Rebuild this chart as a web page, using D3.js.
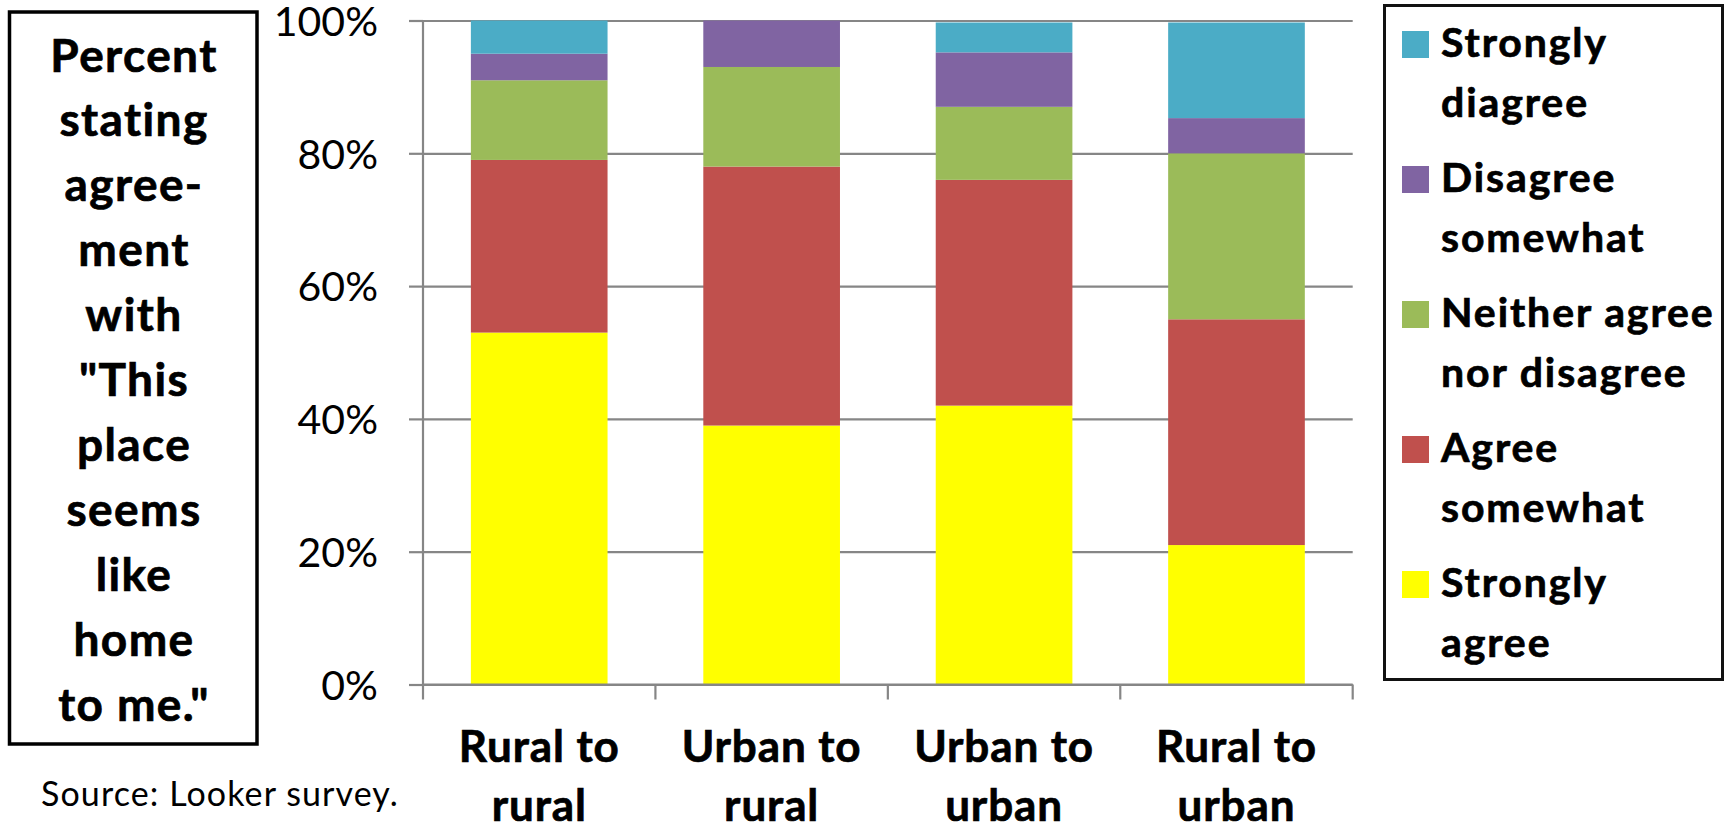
<!DOCTYPE html>
<html>
<head>
<meta charset="utf-8">
<script src="https://cdn.jsdelivr.net/npm/d3@7"></script>
<style>
  html, body { margin: 0; padding: 0; background: #fff; }
  svg { display: block; font-family: Lato, "Open Sans", sans-serif; }
</style>
</head>
<body>
<svg id="chart" width="1727" height="826"></svg>
<script>
// Migration categories (x axis) and their two-line tick labels
const categories = ["Rural to rural", "Urban to rural", "Urban to urban", "Rural to urban"];
const categoryLabels = [["Rural to", "rural"], ["Urban to", "rural"], ["Urban to", "urban"], ["Rural to", "urban"]];

// Response shares (%) per category, stacked bottom to top
const stronglyAgree    = [53, 39, 42, 21];
const agreeSomewhat    = [26, 39, 34, 34];
const neitherAgree     = [12, 15, 11, 25];
const disagreeSomewhat = [4, 7, 8.2, 5.3];
const stronglyDisagree = [5, 0, 4.5, 14.4];

const seriesNames = ["Strongly agree", "Agree somewhat", "Neither agree nor disagree", "Disagree somewhat", "Strongly diagree"];
const seriesColors = ["#FFFF00", "#C0504D", "#9BBB59", "#8064A2", "#4BACC6"];

// Legend entries, top to bottom
const legendLabels = [["Strongly", "diagree"], ["Disagree", "somewhat"], ["Neither agree", "nor disagree"], ["Agree", "somewhat"], ["Strongly", "agree"]];

const yTicks = [0, 20, 40, 60, 80, 100];

const titleLines = ["Percent", "stating", "agree-", "ment", "with", "\"This", "place", "seems", "like", "home", "to me.\""];
const sourceNote = "Source: Looker survey.";

const svg = d3.select("#chart");
const plot = { left: 423, right: 1352.7, top: 20.5, bottom: 684.5 };

const rows = categories.map((c, i) => ({
  category: c,
  [seriesNames[0]]: stronglyAgree[i],
  [seriesNames[1]]: agreeSomewhat[i],
  [seriesNames[2]]: neitherAgree[i],
  [seriesNames[3]]: disagreeSomewhat[i],
  [seriesNames[4]]: stronglyDisagree[i]
}));
const stacked = d3.stack().keys(seriesNames)(rows);

const x = d3.scaleBand().domain(categories).range([plot.left, plot.right])
  .paddingInner(0.412).paddingOuter(0.206);
const y = d3.scaleLinear().domain([0, 100]).range([plot.bottom, plot.top]);
const color = d3.scaleOrdinal().domain(seriesNames).range(seriesColors);

const gridColor = "#868686";

// Bold labels get a hairline stroke for a heavier look
const heavy = sel => sel.attr("font-weight", "bold").attr("stroke", "#000").attr("stroke-width", 0.7);

// Horizontal gridlines
svg.append("g")
  .attr("transform", `translate(${plot.left},0)`)
  .call(d3.axisLeft(y).tickValues(yTicks).tickSize(-(plot.right - plot.left)).tickFormat(""))
  .call(g => g.select(".domain").remove())
  .call(g => g.selectAll("line").attr("stroke", gridColor).attr("stroke-width", 2.2));

// Stacked bars
svg.append("g").selectAll("g")
  .data(stacked)
  .join("g")
  .attr("fill", d => color(d.key))
  .selectAll("rect")
  .data(d => d)
  .join("rect")
  .attr("x", d => x(d.data.category))
  .attr("width", x.bandwidth())
  .attr("y", d => y(d[1]))
  .attr("height", d => y(d[0]) - y(d[1]));

// Value axis with percent labels
svg.append("g")
  .attr("transform", `translate(${plot.left},0)`)
  .call(d3.axisLeft(y).tickValues(yTicks).tickSize(14).tickPadding(31).tickFormat(d => d + "%"))
  .call(g => g.select(".domain").attr("stroke", gridColor).attr("stroke-width", 2.2)
    .attr("d", `M0,${plot.top}V${plot.bottom}`))
  .call(g => g.selectAll(".tick line").attr("stroke", gridColor).attr("stroke-width", 2.2))
  .call(g => g.selectAll(".tick text")
    .attr("fill", "#000").attr("font-size", 41).attr("font-family", "Lato, sans-serif")
    .attr("dy", "0.36em"));

// Category axis: baseline, boundary ticks and wrapped labels
const boundaries = categories.map(c => x(c) - x.step() * x.paddingInner() / 2);
boundaries.push(plot.right);
svg.append("g").selectAll("line")
  .data(boundaries)
  .join("line")
  .attr("x1", d => d).attr("x2", d => d)
  .attr("y1", plot.bottom).attr("y2", plot.bottom + 15)
  .attr("stroke", gridColor).attr("stroke-width", 2.2);

const xAxis = svg.append("g")
  .attr("transform", `translate(0,${plot.bottom})`)
  .call(d3.axisBottom(x).tickSize(0).tickFormat(""))
  .call(g => g.select(".domain").attr("stroke", gridColor).attr("stroke-width", 2.2)
    .attr("d", `M${plot.left},0H${plot.right}`));
xAxis.selectAll(".tick").each(function(d, i) {
  const t = d3.select(this).append("text")
    .attr("fill", "#000").attr("text-anchor", "middle")
    .attr("font-size", 44).attr("letter-spacing", 0.9).attr("font-family", "Lato, sans-serif")
    .call(heavy);
  categoryLabels[i].forEach((line, j) => {
    t.append("tspan").attr("x", 0).attr("y", 77 + j * 59).text(line);
  });
});

// Boxed title on the left
svg.append("rect")
  .attr("x", 9.5).attr("y", 12).attr("width", 247.5).attr("height", 732)
  .attr("fill", "none").attr("stroke", "#000").attr("stroke-width", 3.5);
svg.append("g").selectAll("text")
  .data(titleLines)
  .join("text")
  .attr("x", 134).attr("y", (d, i) => 71.5 + i * 64.9)
  .attr("text-anchor", "middle")
  .attr("font-size", 46).attr("letter-spacing", 1.4)
  .call(heavy)
  .text(d => d);

// Source note
svg.append("text")
  .attr("x", 41).attr("y", 806)
  .attr("font-size", 34).attr("letter-spacing", 1.1)
  .text(sourceNote);

// Legend
svg.append("rect")
  .attr("x", 1384.5).attr("y", 5.5).attr("width", 338).attr("height", 674)
  .attr("fill", "none").attr("stroke", "#111").attr("stroke-width", 3);
const legendColors = seriesColors.slice().reverse();
const legend = svg.append("g").selectAll("g")
  .data(legendLabels)
  .join("g")
  .attr("transform", (d, i) => `translate(1402,${31 + i * 135})`);
legend.append("rect")
  .attr("width", 27).attr("height", 27)
  .attr("fill", (d, i) => legendColors[i]);
legend.append("text")
  .attr("font-size", 41).attr("letter-spacing", 1.9)
  .call(heavy)
  .selectAll("tspan")
  .data(d => d)
  .join("tspan")
  .attr("x", 39).attr("y", (d, j) => 26 + j * 60)
  .text(d => d);
</script>
</body>
</html>
